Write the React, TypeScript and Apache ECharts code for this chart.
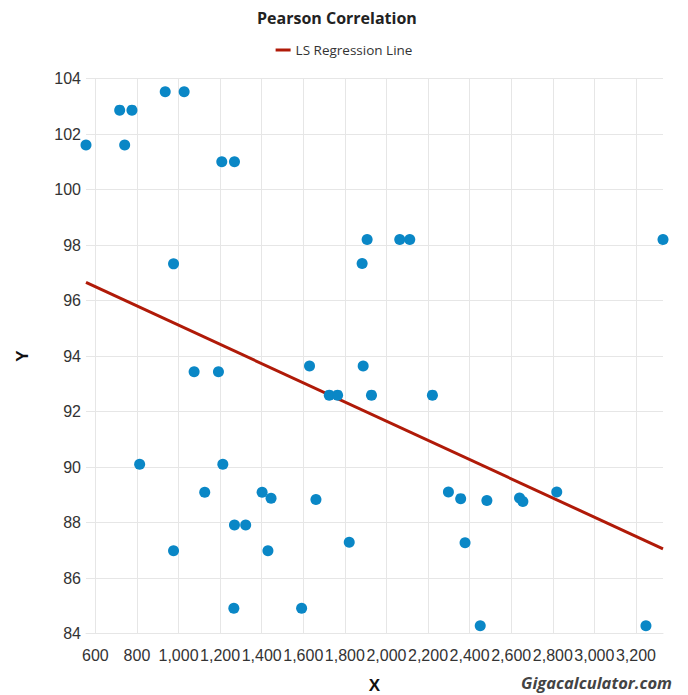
import React, { useEffect, useRef } from "react";
import * as echarts from "echarts";

const pointsX = [
  555, 717, 776, 741, 936, 1027, 976, 1208, 1269, 1075, 1192, 813, 1213, 1126,
  1402, 1445, 1661, 1269, 1323, 976, 1430, 1821, 1266, 1592, 1630, 1888, 1725,
  1765, 1928, 1907, 1883, 2064, 2112, 2221, 3330, 2298, 2357, 2483, 2640, 2656,
  2819, 2378, 2451, 3248,
];
const pointsY = [
  101.6, 102.86, 102.86, 101.6, 103.52, 103.52, 97.32, 101.0, 101.0, 93.43,
  93.43, 90.1, 90.1, 89.09, 89.09, 88.87, 88.83, 87.91, 87.91, 86.98, 86.98,
  87.29, 84.91, 84.91, 93.64, 93.64, 92.59, 92.59, 92.59, 98.2, 97.33, 98.2,
  98.2, 92.59, 98.2, 89.1, 88.86, 88.79, 88.88, 88.76, 89.1, 87.27, 84.28,
  84.28,
];
const regressionX = [555, 3330];
const regressionY = [96.65, 87.05];
const xTicks = [600, 800, 1000, 1200, 1400, 1600, 1800, 2000, 2200, 2400, 2600, 2800, 3000, 3200];
const yMin = 84;
const yMax = 104;
const yStep = 2;

export default function App() {
  const ref = useRef<HTMLDivElement>(null);
  useEffect(() => {
    if (!ref.current) return;
    const chart = echarts.init(ref.current, null, { renderer: "svg" });
    const scatterData = pointsX.map((x, i) => [x, pointsY[i]]);
    const lineData = regressionX.map((x, i) => [x, regressionY[i]]);
    chart.setOption({
      animation: false,
      backgroundColor: "#ffffff",
      title: {
        text: "Pearson Correlation",
        left: 252,
        top: 5,
        textStyle: {
          fontFamily: "Open Sans",
          fontSize: 16,
          fontWeight: "bold",
          color: "#222",
        },
      },
      legend: {
        data: ["LS Regression Line"],
        top: 38,
        left: "center",
        icon: "rect",
        itemWidth: 15,
        itemHeight: 3,
        itemGap: 6,
        textStyle: { fontFamily: "Open Sans", fontSize: 13.5, color: "#333" },
      },
      grid: {
        left: 86,
        right: 25,
        top: 78.5,
        bottom: 61.5,
        outerBoundsMode: "none",
        containLabel: false,
      },
      xAxis: {
        type: "value",
        min: 555,
        max: 3330,
        name: "X",
        nameLocation: "middle",
        nameGap: 43,
        nameTextStyle: {
          fontFamily: "Liberation Sans",
          fontSize: 17,
          fontWeight: "bold",
          color: "#111",
        },
        axisLine: { show: true, lineStyle: { color: "#e6e6e6", width: 1 } },
        axisTick: { show: false, customValues: xTicks },
        axisLabel: {
          customValues: xTicks,
          margin: 14,
          fontFamily: "Liberation Sans",
          fontSize: 16,
          color: "#333",
          hideOverlap: false,
          formatter: (v: number) => v.toLocaleString("en-US"),
        },
        splitLine: { show: true, lineStyle: { color: "#e6e6e6", width: 1 } },
      },
      yAxis: {
        type: "value",
        min: yMin,
        max: yMax,
        interval: yStep,
        name: "Y",
        nameLocation: "middle",
        nameGap: 55,
        nameTextStyle: {
          fontFamily: "Liberation Sans",
          fontSize: 17,
          fontWeight: "bold",
          color: "#111",
        },
        axisLine: { show: false },
        axisTick: { show: false },
        axisLabel: {
          margin: 5,
          fontFamily: "Liberation Sans",
          fontSize: 16,
          color: "#333",
        },
        splitLine: { show: true, lineStyle: { color: "#e6e6e6", width: 1 } },
      },
      graphic: [
        {
          type: "text",
          right: 16,
          top: 674,
          style: {
            text: "Gigacalculator.com",
            fontFamily: "Open Sans",
            fontSize: 16.5,
            fontWeight: "bold",
            fontStyle: "italic",
            fill: "#444",
          },
        },
      ],
      series: [
        {
          name: "Data",
          type: "scatter",
          data: scatterData,
          symbol: "circle",
          symbolSize: 11,
          itemStyle: { color: "#0a87c6", opacity: 1 },
          z: 3,
        },
        {
          name: "LS Regression Line",
          type: "line",
          data: lineData,
          showSymbol: false,
          symbol: "none",
          lineStyle: { color: "#b01a08", width: 3 },
          itemStyle: { color: "#b01a08" },
          z: 2,
        },
      ],
    });
    return () => chart.dispose();
  }, []);
  return (
    <div
      ref={ref}
      style={{ position: "absolute", left: 0, top: 0, width: 688, height: 695 }}
    />
  );
}
